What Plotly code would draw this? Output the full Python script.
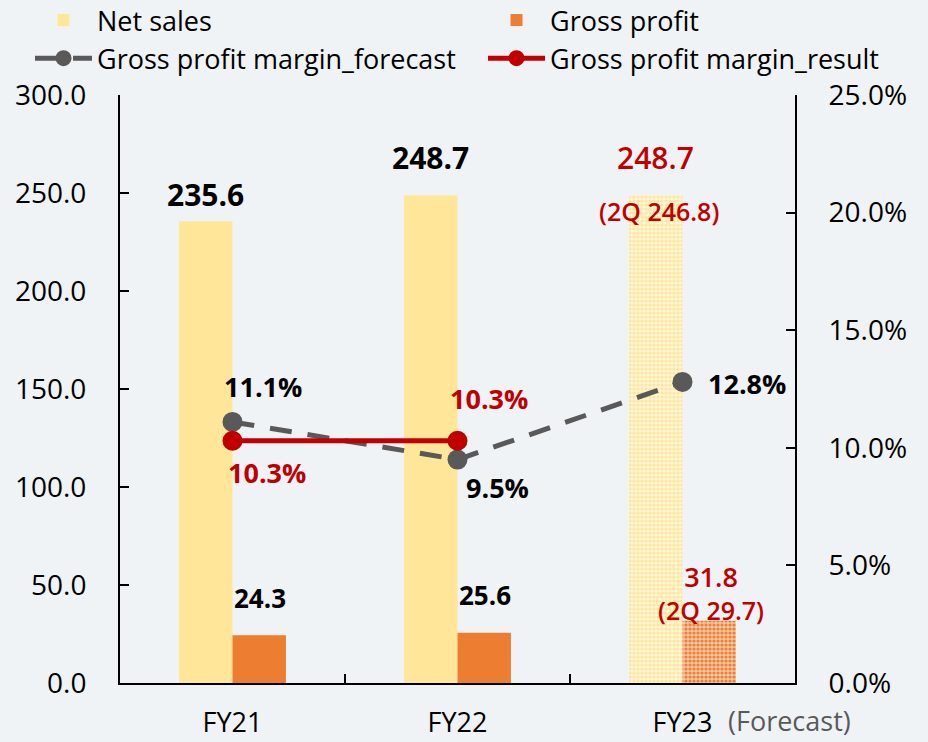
import plotly.graph_objects as go

categories = ["FY21", "FY22", "FY23"]
net_sales = [235.6, 248.7, 248.7]
gross_profit = [24.3, 25.6, 31.8]
margin_forecast = [11.1, 9.5, 12.8]
margin_result = [10.3, 10.3]
forecast_flags = [False, False, True]

sales_labels = ["235.6", "248.7", "248.7"]
sales_label_pos = [249, 268, 268]
sales_label_colors = ["#000000", "#000000", "#C00000"]
gp_labels = ["24.3", "25.6"]
gp_label_pos = [43.4, 45]
q2_labels = ["(2Q 246.8)", "(2Q 29.7)"]
q2_label_pos = [241, 46]
fc_labels = ["11.1%", "9.5%", "12.8%"]
fc_label_pos = [12.6, 8.3, 12.75]
res_labels = ["10.3%", "10.3%"]
res_label_pos = [8.95, 12.1]

SALES = "#FFE699"
GP = "#ED7D31"
RED = "#C00000"
GRAY = "#595959"
BG = "#F0F3F5"
FONT = "Open Sans"

fig = go.Figure()
fig.add_trace(go.Bar(
    x=categories, y=net_sales, name="Net sales", legend="legend",
    marker=dict(color=SALES, line=dict(width=0),
                pattern=dict(shape=["" if not f else "." for f in forecast_flags],
                             fgcolor=[SALES, SALES, SALES],
                             bgcolor=[SALES, SALES, "#FFF6DA"],
                             size=4, solidity=0.5, fillmode="replace")),
    yaxis="y",
))
fig.add_trace(go.Bar(
    x=categories, y=gross_profit, name="Gross profit", legend="legend2",
    marker=dict(color=GP, line=dict(width=0),
                pattern=dict(shape=["" if not f else "." for f in forecast_flags],
                             fgcolor=[GP, GP, GP],
                             bgcolor=[GP, GP, "#F9C9A6"],
                             size=4, solidity=0.5, fillmode="replace")),
    yaxis="y",
))
fig.add_trace(go.Scatter(
    x=categories, y=margin_forecast, name="Gross profit margin_forecast", legend="legend",
    mode="lines+markers", yaxis="y2",
    line=dict(color=GRAY, width=5, dash="22px,16px"),
    marker=dict(color=GRAY, size=20),
))
fig.add_trace(go.Scatter(
    x=categories[:2], y=margin_result, name="Gross profit margin_result", legend="legend2",
    mode="lines+markers", yaxis="y2",
    line=dict(color=RED, width=5),
    marker=dict(color=RED, size=20),
))

ann = []
bar_shift = 27
for i, c in enumerate(categories):
    ann.append(dict(x=c, y=sales_label_pos[i], xref="x", yref="y", text=sales_labels[i],
                    xshift=-bar_shift, showarrow=False,
                    font=dict(size=30, color=sales_label_colors[i], family=FONT,
                              weight="bold" if i < 2 else 600)))
for i, lab in enumerate(gp_labels):
    ann.append(dict(x=categories[i], y=gp_label_pos[i], xref="x", yref="y", text=lab,
                    xshift=bar_shift, showarrow=False,
                    font=dict(size=26, color="#000", family=FONT, weight="bold")))
ann.append(dict(x="FY23", y=q2_label_pos[0], xref="x", yref="y", text=q2_labels[0],
                xshift=-24, showarrow=False,
                font=dict(size=25, color=RED, family=FONT, weight=600)))
ann.append(dict(x="FY23", y=q2_label_pos[1], xref="x", yref="y",
                text="<span style='font-size:27px'>%.1f</span><br>%s" % (gross_profit[2], q2_labels[1]),
                xshift=28, showarrow=False, align="center",
                font=dict(size=25, color=RED, family=FONT, weight=600)))
pct_font = 27
ann.append(dict(x="FY21", y=fc_label_pos[0], xref="x", yref="y2", text=fc_labels[0],
                xshift=30, showarrow=False, font=dict(size=pct_font, color="#000", family=FONT, weight="bold")))
ann.append(dict(x="FY22", y=fc_label_pos[1], xref="x", yref="y2", text=fc_labels[1],
                xshift=40, showarrow=False, font=dict(size=pct_font, color="#000", family=FONT, weight="bold")))
ann.append(dict(x="FY23", y=fc_label_pos[2], xref="x", yref="y2", text=fc_labels[2],
                xshift=23, xanchor="left", showarrow=False,
                font=dict(size=pct_font, color="#000", family=FONT, weight="bold")))
ann.append(dict(x="FY21", y=res_label_pos[0], xref="x", yref="y2", text=res_labels[0],
                xshift=34, showarrow=False, font=dict(size=pct_font, color=RED, family=FONT, weight="bold")))
ann.append(dict(x="FY22", y=res_label_pos[1], xref="x", yref="y2", text=res_labels[1],
                xshift=31, showarrow=False, font=dict(size=pct_font, color=RED, family=FONT, weight="bold")))
ann.append(dict(x="FY23", y=0, xref="x", yref="paper", text="(Forecast)",
                xshift=43, yshift=-37, xanchor="left", yanchor="middle", showarrow=False,
                font=dict(size=27, color="#595959", family=FONT)))

legend_common = dict(orientation="v", xref="paper", yref="paper", yanchor="top", xanchor="left",
                     font=dict(size=27, family=FONT, color="#000"), bgcolor="rgba(0,0,0,0)",
                     itemwidth=57, tracegroupgap=0, traceorder="normal")

fig.update_layout(
    width=928, height=742,
    paper_bgcolor=BG, plot_bgcolor=BG,
    margin=dict(l=120, r=133, t=95, b=59, autoexpand=False),
    barmode="group", bargap=0.525, bargroupgap=0,
    font=dict(family=FONT, size=28, color="#000"),
    showlegend=True,
    legend=dict(x=(30 - 120) / 675, y=1 + 99 / 588, **legend_common),
    legend2=dict(x=(483 - 120) / 675, y=1 + 99 / 588, **legend_common),
    xaxis=dict(type="category", range=[-0.5, 2.5], showline=True, linecolor="#000", linewidth=2,
               ticks="inside", tickson="boundaries", ticklen=9, tickwidth=2, tickcolor="#000",
               tickfont=dict(size=27, color="#000"), ticklabelstandoff=15, showgrid=False),
    yaxis=dict(range=[0, 300], dtick=50, tickformat=".1f", showline=True, linecolor="#000",
               linewidth=2, ticks="inside", ticklen=9, tickwidth=2, tickcolor="#000",
               showgrid=False, zeroline=False, tickfont=dict(size=28, color="#000"),
               ticklabelstandoff=26),
    yaxis2=dict(range=[0, 25], dtick=5, tickformat=".1f", ticksuffix="%", overlaying="y",
                side="right", showline=True, linecolor="#000", linewidth=2, ticks="inside",
                ticklen=9, tickwidth=2, tickcolor="#000", showgrid=False, zeroline=False,
                tickfont=dict(size=28, color="#000"), ticklabelstandoff=26),
    annotations=ann,
)

fig.write_html("out.html", config={"displayModeBar": False},
               post_script="document.body.style.margin='0';")
